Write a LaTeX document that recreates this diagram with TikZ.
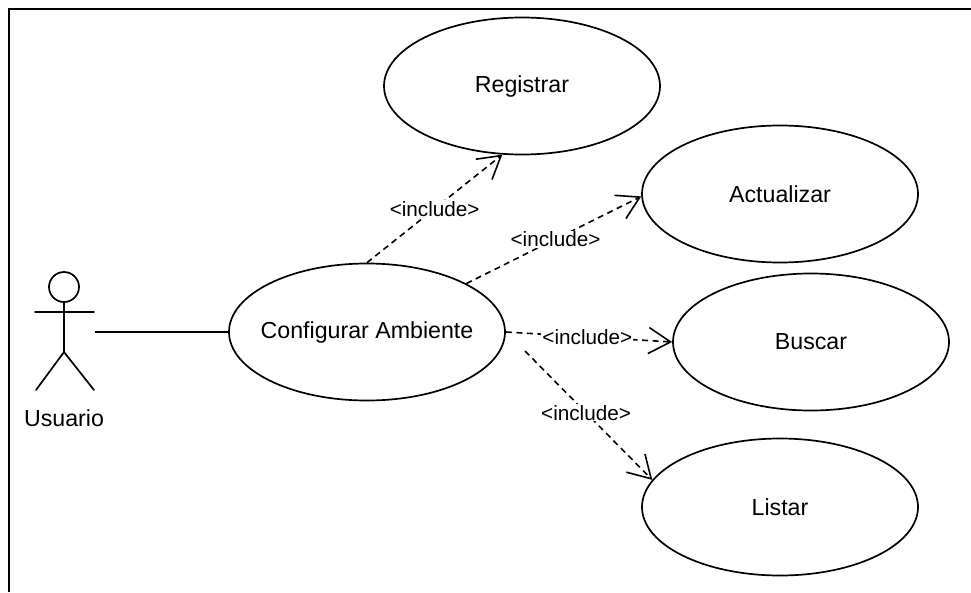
\documentclass[tikz,border=0pt]{standalone}
\usepackage{fontspec}
\setmainfont{Liberation Sans}
\usetikzlibrary{arrows.meta,shapes.geometric}
\begin{document}
\begin{tikzpicture}[x=1pt,y=-1pt,
  uc/.style={ellipse, draw, line width=1.7pt, minimum width=276pt, minimum height=137pt, inner sep=0pt, font=\fontsize{23.2}{27}\selectfont},
  inc/.style={line width=1.6pt, dash pattern=on 6pt off 4.5pt, -{Straight Barb[length=22pt,width=26pt,line width=1.6pt]}},
  lbl/.style={fill=white, inner sep=1pt, font=\fontsize{20.7}{24}\selectfont},
  actor/.style={line width=1.7pt, line cap=round}]
\useasboundingbox (0,0) rectangle (971,592);
\draw[line width=2pt] (9,592) -- (9,9) -- (971,9);

% use cases
\node[uc] (reg) at (522,86) {Registrar};
\node[uc] (act) at (780,194) {Actualizar};
\node[uc] (bus) at (811,342) {Buscar};
\node[uc] (lis) at (780,507) {Listar};
\node[uc, inner xsep=-20pt] (conf) at (367,332) {Configurar Ambiente};

% actor
\draw[actor] (64,287) circle (15);
\draw[actor] (35,312) -- (94,312);
\draw[actor] (64,302) -- (64,352);
\draw[actor] (36,390) -- (64,352) -- (94,390);
\node[font=\fontsize{23.2}{27}\selectfont] (usr) at (64,418) {Usuario};
\coordinate (hand) at (95,332);
\draw[line width=1.7pt] (hand) -- (conf.west);

% include relations
\coordinate (s4) at (525,351);
\draw[inc] (conf.north) -- (reg.254) node[lbl, pos=0.5] (l1) {<include>};
\draw[inc] (conf.26.6) -- (act.181) node[lbl, pos=0.51] (l2) {<include>};
\draw[inc] (conf.east) -- (bus.west) node[lbl, pos=0.49] (l3) {<include>};
\draw[inc] (s4) -- (lis.168) node[lbl, pos=0.48] (l4) {<include>};
\end{tikzpicture}
\end{document}
